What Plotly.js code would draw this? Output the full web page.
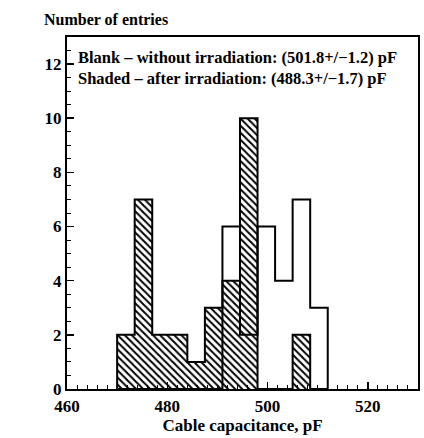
<!DOCTYPE html>
<html>
<head>
<meta charset="utf-8">
<script src="https://cdn.plot.ly/plotly-3.0.1.min.js"></script>
<style>html,body{margin:0;padding:0;background:#fff;}#chart{width:424px;height:438px;}</style>
</head>
<body>
<div id="chart"></div>
<script>
// Histogram bins (pF)
const binStart = 470;
const binWidth = 3.5;
// Counts per bin: 470-473.5, 473.5-477, ..., 508.5-512
const blankCounts  = [0, 0, 0, 0, 0, 0, 6, 2, 6, 4, 7, 3];
const shadedCounts = [2, 7, 2, 2, 1, 3, 4, 10, 0, 0, 2, 0];
const legendLines = [
  "Blank – without irradiation: (501.8+/−1.2) pF",
  "Shaded – after irradiation: (488.3+/−1.7) pF"
];
const xTitle = "Cable capacitance, pF";
const yTitle = "Number of entries";

const nBins = blankCounts.length;
const lefts = blankCounts.map((_, i) => binStart + i * binWidth);
const centers = lefts.map(l => l + binWidth / 2);
const lastEdge = binStart + nBins * binWidth;

function stepTrace(counts, w) {
  return {
    type: 'scatter', mode: 'lines',
    x: [lefts[0]].concat(lefts, [lastEdge]),
    y: [0].concat(counts, [0]),
    line: {shape: 'hv', color: 'black', width: w},
    hoverinfo: 'skip', showlegend: false
  };
}

const font = "Liberation Serif, Times New Roman, serif";

const data = [
  {
    type: 'bar', x: centers, y: shadedCounts, width: binWidth,
    marker: {color: 'white', line: {width: 0},
      pattern: {shape: '\\', fgcolor: 'black', bgcolor: 'white', size: 5, solidity: 0.4}},
    showlegend: false, hoverinfo: 'skip'
  },
  stepTrace(shadedCounts, 2),
  stepTrace(blankCounts, 2)
];

const layout = {
  width: 424, height: 438,
  margin: {l: 67, r: 6, t: 37, b: 49},
  paper_bgcolor: 'white', plot_bgcolor: 'white',
  font: {family: font, color: 'black', size: 17, weight: 'bold'},
  showlegend: false,
  bargap: 0,
  xaxis: {
    range: [460, 530], dtick: 20, tick0: 460,
    ticks: 'inside', ticklen: 7, tickwidth: 1.5, tickcolor: 'black',
    minor: {dtick: 2, ticks: 'inside', ticklen: 4, tickcolor: 'black', tickwidth: 1},
    showline: true, linecolor: 'black', linewidth: 2, mirror: true,
    showgrid: false, zeroline: false,
    ticklabelstandoff: 1,
    tickfont: {family: font, size: 17, weight: 'bold'},
    title: {text: xTitle, font: {family: font, size: 17, weight: 'bold'}, standoff: 4}
  },
  yaxis: {
    range: [0, 13], dtick: 2, tick0: 0,
    ticks: 'inside', ticklen: 7, tickwidth: 1.5, tickcolor: 'black',
    minor: {dtick: 0.5, ticks: 'inside', ticklen: 4, tickcolor: 'black', tickwidth: 1},
    showline: true, linecolor: 'black', linewidth: 2, mirror: true,
    showgrid: false, zeroline: false,
    tickfont: {family: font, size: 17, weight: 'bold'}
  },
  annotations: [
    {xref: 'paper', yref: 'paper', x: -0.07, y: 1.02, xanchor: 'left', yanchor: 'bottom',
     text: yTitle, showarrow: false, font: {family: font, size: 16, weight: 'bold'}},
    {xref: 'paper', yref: 'paper', x: 0.025, y: 0.975, xanchor: 'left', yanchor: 'top',
     align: 'left', text: legendLines.join('<br>'), showarrow: false,
     font: {family: font, size: 16.5, weight: 'bold'}}
  ]
};

Plotly.newPlot('chart', data, layout, {displayModeBar: false, staticPlot: true});
</script>
</body>
</html>
